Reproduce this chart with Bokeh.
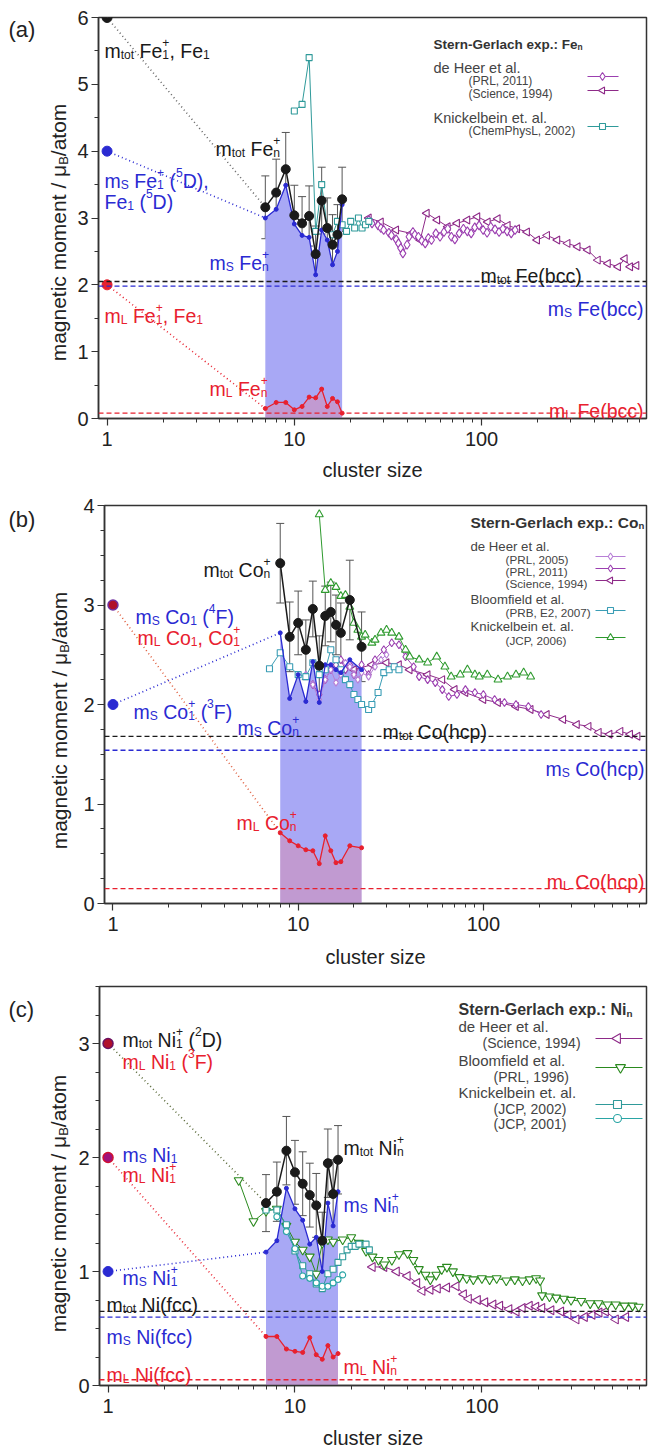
import math
from bokeh.plotting import figure
from bokeh.models import (Range1d, FixedTicker, PrintfTickFormatter, Label, Span,
                          ColumnDataSource, Whisker, TeeHead, Plot)
from bokeh.layouts import column, row
from bokeh.embed import file_html
from bokeh.resources import INLINE

FONT = "Liberation Sans"
BLACK = "#1a1a1a"; BLUE = "#2a2ad2"; RED = "#e8202e"; GREY = "#555555"
D11 = "#9b3fb0"; T94 = "#8e2a88"; D05 = "#b77fd6"
TEAL = "#2f9a9a"; BLC = "#3a9db5"; GRN = "#2e9a2e"; GRN2 = "#2a8a1e"; TEAL2 = "#2aa5a5"
FILL_B = "#a8a8f5"; FILL_R = "#f08090"

# ---------------- data ----------------
atom_n = 1
# Fe
fe_atom = [6.0, 4.0, 2.0]           # m_tot, m_S, m_L of Fe1
fe_bulk = [2.05, 1.98, 0.08]        # m_tot, m_S, m_L of bcc Fe
fe_n = [7, 8, 9, 10, 11, 12, 13, 14, 15, 16, 17, 18]
fe_tot = [3.16, 3.38, 3.73, 3.04, 2.92, 3.03, 2.46, 3.26, 2.85, 2.60, 2.75, 3.28]
fe_err = [0.47, 0.50, 0.55, 0.45, 0.40, 0.45, 0.42, 0.50, 0.45, 0.45, 0.45, 0.48]
fe_s = [3.00, 3.13, 3.49, 2.91, 2.74, 2.71, 2.15, 2.82, 2.67, 2.30, 2.50, 3.20]
fe_l = [0.15, 0.24, 0.24, 0.13, 0.18, 0.32, 0.31, 0.44, 0.18, 0.30, 0.25, 0.08]
fe_kn_n = [10, 11, 12, 13, 14, 15, 16, 17, 18, 19, 20, 21, 22, 23, 24, 25]
fe_kn = [4.6, 4.7, 5.4, 2.8, 3.5, 2.85, 2.75, 2.95, 2.9, 2.8, 2.95, 2.85, 3.0, 2.85, 2.9, 2.95]
fe_d11_n = [25, 26, 28, 29, 30, 32, 33, 35, 36, 37, 38, 40, 41, 43, 44, 46, 48, 50, 52, 54,
            57, 60, 63, 66, 69, 72, 76, 80, 84, 88, 92, 97, 102, 107, 112, 118, 124, 130, 137, 144, 151]
fe_d11 = [2.97, 2.92, 2.89, 2.85, 2.82, 2.78, 2.74, 2.68, 2.62, 2.55, 2.47, 2.6, 2.72, 2.79, 2.75, 2.72,
          2.66, 2.62, 2.7, 2.67, 2.77, 2.72, 2.79, 2.84, 2.72, 2.68, 2.77, 2.84, 2.8, 2.77, 2.86, 2.89,
          2.82, 2.78, 2.87, 2.83, 2.79, 2.84, 2.8, 2.77, 2.82]
fe_d94_n = [25, 29, 35, 42, 47, 51, 58, 66, 74, 84, 95, 108, 122, 138, 155, 175, 198, 224, 254, 288,
            326, 369, 418, 473, 536, 582, 622, 672]
fe_d94 = [3.0, 2.94, 2.82, 2.77, 2.67, 3.07, 2.97, 2.87, 2.92, 2.97, 3.02, 2.94, 2.99, 2.89, 2.84, 2.79,
          2.67, 2.74, 2.67, 2.62, 2.57, 2.52, 2.37, 2.32, 2.27, 2.39, 2.27, 2.29]
# Co
co_atom = [3.0, 2.0]                 # Co1 (4F) / Co1+ (3F)
co_bulk = [1.68, 1.54, 0.15]
co_n = [8, 9, 10, 11, 12, 13, 14, 15, 16, 17, 19, 22]
co_tot = [3.42, 2.68, 2.82, 2.55, 2.96, 2.39, 2.89, 2.93, 2.80, 2.72, 3.05, 2.58]
co_err = [0.40, 0.35, 0.32, 0.30, 0.28, 0.30, 0.30, 0.30, 0.30, 0.30, 0.40, 0.35]
co_s = [2.72, 2.06, 2.30, 2.03, 2.43, 2.02, 2.40, 2.40, 2.35, 2.32, 2.45, 2.35]
co_l = [0.71, 0.63, 0.58, 0.54, 0.53, 0.40, 0.68, 0.53, 0.41, 0.42, 0.58, 0.56]
co_bl_n = [7, 8, 9, 10, 11, 12, 13, 14, 15, 16, 17, 18, 19, 20, 21, 22, 24, 25, 27, 29, 31, 33, 35]
co_bl = [2.36, 2.52, 2.38, 2.3, 2.28, 2.42, 2.3, 2.35, 2.55, 2.45, 2.35, 2.25, 2.2, 2.1, 2.05, 2.0,
         1.95, 2.0, 2.12, 2.32, 2.35, 2.38, 2.35]
co_kn_n = [13, 14, 15, 16, 17, 18, 19, 20, 21, 22, 23, 25, 26, 28, 30, 32, 35, 38, 40, 45,
           50, 56, 62, 67, 75, 82, 90, 95, 105, 120, 135, 150, 165, 180]
co_kn = [3.91, 3.15, 3.22, 3.18, 3.09, 3.1, 2.98, 2.82, 2.75, 2.68, 2.7, 2.62, 2.65, 2.72, 2.75, 2.72,
         2.68, 2.55, 2.48, 2.45, 2.42, 2.48, 2.38, 2.28, 2.3, 2.35, 2.3, 2.28, 2.3, 2.25, 2.28, 2.3, 2.32, 2.28]
co_d05_n = [11, 12, 13, 14, 15, 16, 17, 18, 19, 20, 21, 22, 24, 26, 28, 30]
co_d05 = [2.3, 2.2, 2.05, 2.25, 2.35, 2.22, 2.3, 2.42, 2.38, 2.3, 2.25, 2.32, 2.28, 2.38, 2.45, 2.5]
co_d11_n = [12, 13, 14, 15, 16, 17, 18, 19, 20, 22, 24, 26, 29, 32, 35, 38, 42, 45, 50, 55,
            60, 65, 72, 80, 90, 100, 115, 130, 150, 175, 205]
co_d11 = [2.2, 2.1, 2.25, 2.35, 2.4, 2.45, 2.35, 2.4, 2.3, 2.4, 2.3, 2.45, 2.55, 2.62, 2.6, 2.48,
          2.38, 2.28, 2.25, 2.22, 2.15, 2.08, 2.1, 2.15, 2.12, 2.1, 2.05, 2.02, 2.0, 1.98, 1.9]
co_d94_n = [20, 25, 30, 35, 40, 50, 60, 70, 80, 100, 120, 150, 180, 220, 270, 320, 370, 420, 480, 550, 620, 680]
co_d94 = [2.35, 2.4, 2.42, 2.4, 2.35, 2.3, 2.25, 2.15, 2.12, 2.05, 2.02, 1.98, 1.95, 1.9, 1.85, 1.8,
          1.78, 1.72, 1.7, 1.73, 1.7, 1.68]
# Ni
ni_atom = [3.0, 2.0, 1.0]
ni_bulk = [0.65, 0.60, 0.05]
ni_n = [7, 8, 9, 10, 11, 12, 13, 14, 15, 16, 17]
ni_tot = [1.60, 1.70, 2.06, 1.87, 1.77, 1.67, 1.58, 1.27, 1.95, 1.68, 1.98]
ni_err = [0.25, 0.26, 0.30, 0.28, 0.28, 0.28, 0.28, 0.25, 0.30, 0.30, 0.30]
ni_s = [1.17, 1.27, 1.73, 1.55, 1.45, 1.24, 1.30, 1.00, 1.60, 1.40, 1.70]
ni_l = [0.43, 0.43, 0.32, 0.30, 0.29, 0.42, 0.27, 0.23, 0.35, 0.25, 0.28]
ni_bl_n = [5, 6, 7, 8, 9, 10, 11, 12, 13, 14, 15, 16, 18, 20, 22, 24, 26, 28, 30, 33,
           36, 40, 43, 46, 50, 53, 57, 61, 65, 70, 76, 83, 90, 100, 110, 120, 135, 150, 165, 180,
           195, 205, 210, 230, 250, 275, 300, 340, 380, 420, 470, 520, 580, 640, 690]
ni_bl = [1.8, 1.44, 1.53, 1.55, 1.4, 1.26, 1.19, 1.13, 0.98, 1.25, 1.28, 1.26, 1.28, 1.3, 1.25, 1.18,
         1.13, 1.1, 1.06, 1.1, 1.15, 1.16, 1.1, 1.02, 0.97, 0.93, 0.97, 1.02, 1.04, 1.0, 0.95, 0.94,
         0.93, 0.94, 0.93, 0.94, 0.92, 0.93, 0.92, 0.93, 0.94, 0.92, 0.79, 0.78, 0.77, 0.76, 0.75,
         0.74, 0.72, 0.72, 0.71, 0.71, 0.7, 0.7, 0.69]
ni_d94_n = [26, 30, 35, 40, 45, 48, 53, 58, 65, 73, 80, 85, 95, 104, 115, 125, 140, 153, 165, 180,
            195, 210, 235, 265, 290, 320, 355, 390, 425, 460, 520, 590]
ni_d94 = [1.04, 1.04, 1.0, 0.96, 0.9, 0.83, 0.84, 0.85, 0.86, 0.87, 0.8, 0.76, 0.75, 0.73, 0.71, 0.7,
          0.67, 0.65, 0.68, 0.7, 0.69, 0.68, 0.66, 0.65, 0.62, 0.58, 0.6, 0.62, 0.64, 0.65, 0.58, 0.6]
ni_ks_n = [7, 8, 9, 10, 11, 12, 13, 14, 15, 16, 17, 18, 19, 20, 21, 22, 24, 25]
ni_ks = [1.54, 1.54, 1.41, 1.18, 1.05, 0.98, 0.89, 0.85, 0.98, 1.02, 1.08, 1.13, 1.19, 1.22, 1.22, 1.24, 1.24, 1.19]
ni_kc_n = [8, 9, 10, 11, 12, 13, 14, 15, 16, 17, 18]
ni_kc = [1.48, 1.35, 1.2, 0.96, 0.94, 0.9, 0.87, 0.87, 0.9, 0.93, 0.97]

x_ticks = [1, 10, 100]

# ---------------- text helpers ----------------
REG = {' ': 278, '(': 333, ')': 333, '+': 584, ',': 278, '-': 333, '.': 278, '/': 278, ':': 278,
       'A': 667, 'B': 667, 'C': 722, 'D': 722, 'E': 667, 'F': 611, 'G': 778, 'H': 722, 'I': 278,
       'J': 500, 'K': 667, 'L': 556, 'M': 833, 'N': 722, 'O': 778, 'P': 667, 'R': 722, 'S': 667,
       'T': 611, 'a': 556, 'b': 556, 'c': 500, 'd': 556, 'e': 556, 'f': 278, 'g': 556, 'h': 556,
       'i': 222, 'j': 222, 'k': 500, 'l': 222, 'm': 833, 'n': 556, 'o': 556, 'p': 556, 'q': 556,
       'r': 333, 's': 500, 't': 278, 'u': 556, 'v': 500, 'w': 722, 'x': 500, 'y': 500, 'z': 500,
       'μ': 576}
for d in "0123456789":
    REG[d] = 556
BOLD = dict(REG)
BOLD.update({'t': 333, 'r': 389, 'n': 611, 'l': 278, 'c': 556, 'h': 611, 'x': 556, 'p': 611,
             ':': 333, 'o': 611, 'i': 278})

NOALIGN = {"frame_align": False} if "frame_align" in Plot.properties() else {}


def tw(text, size, bold=False):
    tbl = BOLD if bold else REG
    return sum(tbl.get(ch, 556) for ch in text) * size / 1000.0


def place(tgt, cx, cy):
    """page pixel -> (x, y, units) for target"""
    if tgt["kind"] == "screen":
        return cx - tgt["FL"], tgt["FB"] - cy, "screen"
    return cx, tgt["H"] - (cy - tgt["top"]), "data"


def rich(tgt, X, Y, segs, size, color, bold=False, align="left", vertical=False):
    p = tgt["p"]
    k = 0.62
    items = []
    off = 0.0

    def add(text, fs, dy, o):
        lead = len(text) - len(text.lstrip(" "))
        t = text.strip(" ")
        if t:
            items.append((t, fs, dy, o + tw(" " * lead, fs, bold)))

    for text, kind in segs:
        if kind == "n":
            add(text, size, 0.0, off); off += tw(text, size, bold)
        elif kind == "b":
            fs = size * k
            add(text, fs, -0.22 * size, off); off += tw(text, fs, bold)
        elif kind == "p":
            fs = size * k
            add(text, fs, 0.42 * size, off); off += tw(text, fs, bold)
        else:
            fs = size * k
            a, b = text
            add(a, fs, -0.22 * size, off); add(b, fs, 0.42 * size, off)
            off += max(tw(a, fs, bold), tw(b, fs, bold))
    W = off
    if vertical:
        start = Y + W / 2
    elif align == "right":
        start = X - W
    elif align == "center":
        start = X - W / 2
    else:
        start = X
    for text, fs, dy, o in items:
        if vertical:
            cx = X - dy; cy = start - o; ang = math.pi / 2
        else:
            cx = start + o; cy = Y - dy; ang = 0.0
        x, y, u = place(tgt, cx, cy)
        p.add_layout(Label(x=x, y=y, x_units=u, y_units=u,
                           text=text, text_font=FONT, text_font_size=f"{fs:.1f}px", text_color=color,
                           text_font_style="bold" if bold else "normal", text_align="left",
                           text_baseline="alphabetic", angle=ang))


def px2x(info, X):
    l0, l1 = math.log10(info["x0"]), math.log10(info["x1"])
    return 10 ** (l0 + (X - info["FL"]) / info["FW"] * (l1 - l0))


def py2y(info, Y):
    return info["y0"] + (info["FB"] - Y) / info["FH"] * (info["y1"] - info["y0"])


STRIP_W = 72


def make_strip(height, top):
    s = figure(width=STRIP_W, height=height, x_range=Range1d(0, STRIP_W), y_range=Range1d(0, height),
               x_axis_location=None, y_axis_location=None, output_backend="svg", toolbar_location=None,
               min_border=0, **NOALIGN)
    s.min_border_left = 0; s.min_border_right = 0; s.min_border_top = 0; s.min_border_bottom = 0
    s.outline_line_color = None
    s.grid.visible = False
    s.background_fill_color = "white"
    s.border_fill_color = "white"
    return dict(kind="data", p=s, H=height, top=top)


def make_fig(info, height, top, bottom, yticks, yminor, xlab_standoff):
    p = figure(width=649 - STRIP_W, height=height, x_axis_type="log",
               x_range=Range1d(info["x0"], info["x1"]), y_range=Range1d(info["y0"], info["y1"]),
               output_backend="svg", toolbar_location=None,
               min_border_left=info["FL"] - STRIP_W, min_border_right=3, min_border_top=top,
               min_border_bottom=bottom, **NOALIGN)
    p.xgrid.visible = False
    p.ygrid.visible = False
    p.outline_line_color = "#333333"
    p.outline_line_width = 1.5
    p.background_fill_color = "white"
    p.border_fill_color = "white"
    p.xaxis.ticker = FixedTicker(ticks=x_ticks, minor_ticks=[m * d for d in (1, 10, 100) for m in range(2, 10)])
    p.xaxis.formatter = PrintfTickFormatter(format="%d")
    p.yaxis.ticker = FixedTicker(ticks=yticks, minor_ticks=yminor)
    for ax in (p.xaxis[0], p.yaxis[0]):
        ax.axis_line_width = 1.5
        ax.axis_line_color = "#333333"
        ax.major_tick_line_color = "#333333"
        ax.minor_tick_line_color = "#333333"
        ax.major_tick_line_width = 1.2
        ax.major_tick_out = 7
        ax.major_tick_in = 0
        ax.minor_tick_out = 4
        ax.minor_tick_in = 0
        ax.major_label_text_font = FONT
        ax.major_label_text_font_size = "20px"
        ax.major_label_text_color = "#222222"
    p.xaxis.major_label_standoff = 6
    p.yaxis.major_label_standoff = 3
    p.xaxis.axis_label = "cluster size"
    p.xaxis.axis_label_text_font = FONT
    p.xaxis.axis_label_text_font_size = "20px"
    p.xaxis.axis_label_text_font_style = "normal"
    p.xaxis.axis_label_text_color = "#222222"
    p.xaxis.axis_label_standoff = xlab_standoff
    info["p"] = p
    info["kind"] = "screen"
    return p


def series(p, n, v, color, marker, size=7, angle=0.0, lw=1.0):
    p.line(n, v, line_color=color, line_width=lw)
    p.scatter(n, v, marker=marker, size=size, line_color=color, fill_color="white", line_width=1.1, angle=angle)


def own(p, n, s, l):
    p.varea(x=n, y1=0, y2=s, fill_color=FILL_B, fill_alpha=1.0)
    p.varea(x=n, y1=0, y2=l, fill_color=FILL_R, fill_alpha=0.35)


def own_lines(p, n, tot, err, s, l):
    src = ColumnDataSource(dict(n=n, up=[a + b for a, b in zip(tot, err)], lo=[a - b for a, b in zip(tot, err)]))
    p.add_layout(Whisker(source=src, base="n", upper="up", lower="lo", line_color=GREY, line_width=1,
                         upper_head=TeeHead(size=8, line_color=GREY, line_width=1),
                         lower_head=TeeHead(size=8, line_color=GREY, line_width=1)))
    p.line(n, s, line_color=BLUE, line_width=1.3)
    p.scatter(n, s, size=4, color=BLUE)
    p.line(n, l, line_color=RED, line_width=1.3)
    p.scatter(n, l, size=4, color=RED)
    p.line(n, tot, line_color=BLACK, line_width=1.5)
    p.scatter(n, tot, size=9, color=BLACK)


def bulk(p, vals):
    for v, c in zip(vals, (BLACK, BLUE, RED)):
        p.add_layout(Span(location=v, dimension="width", line_color=c, line_dash="5 3", line_width=1.4))


def dotted(p, x0, y0, x1, y1, color):
    p.line([x0, x1], [y0, y1], line_color=color, line_dash="1 3", line_width=1.6)


def legend_sample(info, X0, X1, Xm, Y, color, marker, size, angle=0.0):
    p = info["p"]
    yy = py2y(info, Y)
    p.line([px2x(info, X0), px2x(info, X1)], [yy, yy], line_color=color, line_width=1.2)
    p.scatter([px2x(info, Xm)], [yy], marker=marker, size=size, line_color=color, fill_color="white",
              line_width=1.1, angle=angle)


def ylabel(strip, X, Yc):
    rich(strip, X, Yc, [("magnetic moment / μ", "n"), ("B", "b"), ("/atom", "n")], 21, "#222222", vertical=True)


def m(sub, rest):
    return [("m", "n"), (sub, "b")] + rest


LEFT = math.pi / 2
S = 19.5

# ---------------- panel (a) Fe ----------------
ia = dict(FL=98, FB=418, FW=548, FH=401, x0=0.9, x1=760, y0=0, y1=6)
pa = make_fig(ia, 490, 17, 72, [0, 1, 2, 3, 4, 5, 6], [0.5 + i for i in range(6)], 10)
sa = make_strip(490, 0)
own(pa, fe_n, fe_s, fe_l)
bulk(pa, fe_bulk)
dotted(pa, atom_n, fe_atom[0], fe_n[0], fe_tot[0], "#666666")
dotted(pa, atom_n, fe_atom[1], fe_n[0], fe_s[0], BLUE)
dotted(pa, atom_n, fe_atom[2], fe_n[0], fe_l[0], RED)
series(pa, fe_d94_n, fe_d94, T94, "triangle", 8, LEFT)
series(pa, fe_d11_n, fe_d11, D11, "diamond", 9)
series(pa, fe_kn_n, fe_kn, TEAL, "square", 6)
own_lines(pa, fe_n, fe_tot, fe_err, fe_s, fe_l)
pa.scatter([atom_n], [fe_atom[0]], size=10, color=BLACK)
pa.scatter([atom_n], [fe_atom[1]], size=10, color=BLUE)
pa.scatter([atom_n], [fe_atom[2]], size=10, color=RED)

rich(sa, 8, 29, [("(a)", "n")], 22, "#222222")
ylabel(sa, 58, 232)
rich(ia, 104, 50, m("tot", [(" Fe", "n"), (("1", "+"), "bp"), (", Fe", "n"), ("1", "b")]), S, BLACK)
rich(ia, 215, 148, m("tot", [(" Fe", "n"), (("n", "+"), "bp")]), S, BLACK)
rich(ia, 104, 180, m("S", [(" Fe", "n"), (("1", "+"), "bp"), (" (", "n"), ("5", "p"), ("D),", "n")]), S, BLUE)
rich(ia, 104, 201, [("Fe", "n"), ("1", "b"), (" (", "n"), ("5", "p"), ("D)", "n")], S, BLUE)
rich(ia, 209, 262, m("S", [(" Fe", "n"), (("n", "+"), "bp")]), S, BLUE)
rich(ia, 104, 315, m("L", [(" Fe", "n"), (("1", "+"), "bp"), (", Fe", "n"), ("1", "b")]), S, RED)
rich(ia, 209, 388, m("L", [(" Fe", "n"), (("n", "+"), "bp")]), S, RED)
rich(ia, 480, 275, m("tot", [(" Fe(bcc)", "n")]), S, BLACK)
rich(ia, 643, 308, m("S", [(" Fe(bcc)", "n")]), S, BLUE, align="right")
rich(ia, 643, 410, m("L", [(" Fe(bcc)", "n")]), S, RED, align="right")
rich(ia, 433, 44, [("Stern-Gerlach exp.: Fe", "n"), ("n", "b")], 13.5, "#333333", bold=True)
rich(ia, 433, 67, [("de Heer et al.", "n")], 14.5, "#444444")
rich(ia, 468, 80, [("(PRL,  2011)", "n")], 12, "#444444")
rich(ia, 468, 93, [("(Science, 1994)", "n")], 12, "#444444")
rich(ia, 433, 117, [("Knickelbein et. al.", "n")], 14.5, "#444444")
rich(ia, 468, 130, [("(ChemPhysL, 2002)", "n")], 12, "#444444")
legend_sample(ia, 587, 618, 602, 76, D11, "diamond", 8)
legend_sample(ia, 587, 618, 602, 90, T94, "triangle", 7, LEFT)
legend_sample(ia, 587, 618, 602, 126, TEAL, "square", 6)

# ---------------- panel (b) Co ----------------
ib = dict(FL=104, FB=904, FW=542, FH=398, x0=0.9, x1=760, y0=0, y1=4)
pb = make_fig(ib, 485, 15, 72, [0, 1, 2, 3, 4], [0.25 * i for i in range(17) if i % 4], 12)
sb = make_strip(485, 490)
own(pb, co_n, co_s, co_l)
bulk(pb, co_bulk)
dotted(pb, atom_n, co_atom[0], co_n[0], co_l[0], "#e06040")
dotted(pb, atom_n, co_atom[1], co_n[0], co_s[0], BLUE)
series(pb, co_d94_n, co_d94, T94, "triangle", 8, LEFT)
series(pb, co_d11_n, co_d11, D11, "diamond", 8)
series(pb, co_d05_n, co_d05, D05, "diamond", 7)
series(pb, co_bl_n, co_bl, BLC, "square", 6)
series(pb, co_kn_n, co_kn, GRN, "triangle", 8)
own_lines(pb, co_n, co_tot, co_err, co_s, co_l)
pb.scatter([atom_n], [co_atom[0]], size=10, fill_color="#b0102a", line_color="#7030a0", line_width=1.5)
pb.scatter([atom_n], [co_atom[1]], size=10, color=BLUE)

rich(sb, 8, 519, [("(b)", "n")], 22, "#222222")
ylabel(sb, 59, 720)
rich(ib, 203, 570, m("tot", [(" Co", "n"), (("n", "+"), "bp")]), S, BLACK)
rich(ib, 135, 617, m("S", [(" Co", "n"), ("1", "b"), (" (", "n"), ("4", "p"), ("F)", "n")]), S, BLUE)
rich(ib, 137, 638, m("L", [(" Co", "n"), ("1", "b"), (", Co", "n"), (("1", "+"), "bp")]), S, RED)
rich(ib, 133, 712, m("S", [(" Co", "n"), (("1", "+"), "bp"), (" (", "n"), ("3", "p"), ("F)", "n")]), S, BLUE)
rich(ib, 237, 728, m("S", [(" Co", "n"), (("n", "+"), "bp")]), S, BLUE)
rich(ib, 236, 823, m("L", [(" Co", "n"), (("n", "+"), "bp")]), S, RED)
rich(ib, 382, 732, m("tot", [(" Co(hcp)", "n")]), S, BLACK)
rich(ib, 644, 769, m("S", [(" Co(hcp)", "n")]), S, BLUE, align="right")
rich(ib, 644, 882, m("L", [(" Co(hcp)", "n")]), S, RED, align="right")
rich(ib, 470, 523, [("Stern-Gerlach exp.: Co", "n"), ("n", "b")], 15.5, "#333333", bold=True)
rich(ib, 470, 547, [("de Heer et al.", "n")], 13.2, "#444444")
rich(ib, 505, 560, [("(PRL, 2005)", "n")], 11.7, "#444444")
rich(ib, 505, 572, [("(PRL, 2011)", "n")], 11.7, "#444444")
rich(ib, 505, 584, [("(Science, 1994)", "n")], 11.7, "#444444")
rich(ib, 470, 600, [("Bloomfield et al.", "n")], 13.2, "#444444")
rich(ib, 505, 613, [("(PRB, E2, 2007)", "n")], 11.7, "#444444")
rich(ib, 470, 627, [("Knickelbein et. al.", "n")], 13.2, "#444444")
rich(ib, 505, 641, [("(JCP, 2006)", "n")], 11.7, "#444444")
legend_sample(ib, 595, 625, 610, 557, D05, "diamond", 7)
legend_sample(ib, 595, 625, 610, 569, D11, "diamond", 7)
legend_sample(ib, 595, 625, 610, 581, T94, "triangle", 7, LEFT)
legend_sample(ib, 595, 625, 610, 611, BLC, "square", 6)
legend_sample(ib, 595, 625, 610, 638, GRN, "triangle", 7)

# ---------------- panel (c) Ni ----------------
ic = dict(FL=99, FB=1386, FW=547, FH=399, x0=0.9, x1=760, y0=0, y1=3.5)
pc = make_fig(ic, 479, 11, 69, [0, 1, 2, 3], [0.25 * i for i in range(15) if i % 4], 11)
scs = make_strip(479, 975)
own(pc, ni_n, ni_s, ni_l)
bulk(pc, ni_bulk)
dotted(pc, atom_n, ni_atom[0], ni_n[0], ni_tot[0], "#5a6a3a")
dotted(pc, atom_n, ni_atom[1], ni_n[0], ni_l[0], RED)
dotted(pc, atom_n, ni_atom[2], ni_n[0], ni_s[0], BLUE)
series(pc, ni_d94_n, ni_d94, T94, "triangle", 9, LEFT)
series(pc, ni_bl_n, ni_bl, GRN2, "inverted_triangle", 9)
series(pc, ni_ks_n, ni_ks, TEAL, "square", 6)
series(pc, ni_kc_n, ni_kc, TEAL2, "circle", 6)
own_lines(pc, ni_n, ni_tot, ni_err, ni_s, ni_l)
pc.scatter([atom_n], [ni_atom[0]], size=10, fill_color="#b0102a", line_color="#6a1060", line_width=1.5)
pc.scatter([atom_n], [ni_atom[1]], size=10, fill_color="#a0107a", line_color="#d01030", line_width=1.5)
pc.scatter([atom_n], [ni_atom[2]], size=10, color=BLUE)

rich(scs, 8, 1009, [("(c)", "n")], 22, "#222222")
ylabel(scs, 58, 1203)
rich(ic, 122, 1040, m("tot", [(" Ni", "n"), (("1", "+"), "bp"), (" (", "n"), ("2", "p"), ("D)", "n")]), S, BLACK)
rich(ic, 122, 1062, m("L", [(" Ni", "n"), ("1", "b"), (" (", "n"), ("3", "p"), ("F)", "n")]), S, RED)
rich(ic, 122, 1155, m("S", [(" Ni", "n"), ("1", "b")]), S, BLUE)
rich(ic, 122, 1175, m("L", [(" Ni", "n"), (("1", "+"), "bp")]), S, RED)
rich(ic, 122, 1278, m("S", [(" Ni", "n"), (("1", "+"), "bp")]), S, BLUE)
rich(ic, 106, 1305, m("tot", [(" Ni(fcc)", "n")]), S, BLACK)
rich(ic, 106, 1337, m("S", [(" Ni(fcc)", "n")]), S, BLUE)
rich(ic, 106, 1375, m("L", [(" Ni(fcc)", "n")]), S, RED)
rich(ic, 343, 1148, m("tot", [(" Ni", "n"), (("n", "+"), "bp")]), S, BLACK)
rich(ic, 343, 1205, m("S", [(" Ni", "n"), (("n", "+"), "bp")]), S, BLUE)
rich(ic, 343, 1367, m("L", [(" Ni", "n"), (("n", "+"), "bp")]), S, RED)
rich(ic, 458, 1010, [("Stern-Gerlach exp.: Ni", "n"), ("n", "b")], 16, "#333333", bold=True)
rich(ic, 458, 1027, [("de Heer et al.", "n")], 15, "#444444")
rich(ic, 482, 1043, [("(Science, 1994)", "n")], 14, "#444444")
rich(ic, 458, 1061, [("Bloomfield et al.", "n")], 15, "#444444")
rich(ic, 493, 1077, [("(PRL, 1996)", "n")], 14, "#444444")
rich(ic, 458, 1093, [("Knickelbein et. al.", "n")], 15, "#444444")
rich(ic, 493, 1109, [("(JCP, 2002)", "n")], 14, "#444444")
rich(ic, 493, 1124, [("(JCP, 2001)", "n")], 14, "#444444")
legend_sample(ic, 595, 642, 617, 1039, T94, "triangle", 10, LEFT)
legend_sample(ic, 595, 642, 620, 1068, GRN2, "inverted_triangle", 10)
legend_sample(ic, 595, 642, 617, 1105, TEAL, "square", 8)
legend_sample(ic, 595, 642, 617, 1119, TEAL2, "circle", 8)

layout = column(row(sa["p"], pa, spacing=0), row(sb["p"], pb, spacing=0), row(scs["p"], pc, spacing=0), spacing=0)
open("out.html", "w").write(file_html(layout, INLINE))
